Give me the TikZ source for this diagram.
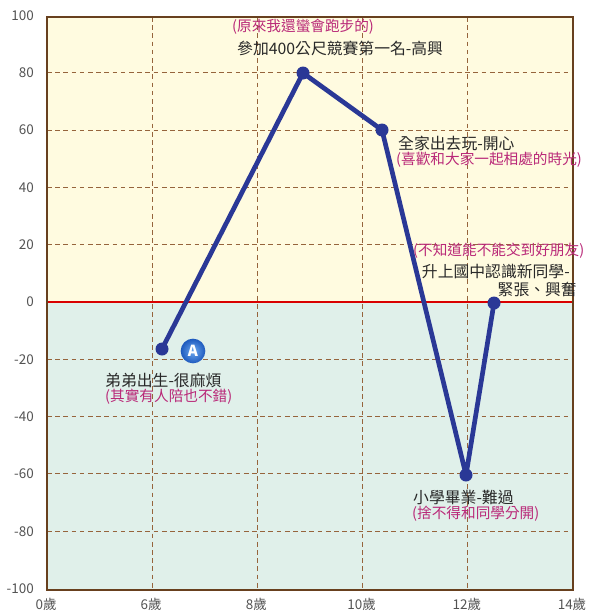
\documentclass[tikz,border=0pt]{standalone}
\usepackage{fontspec}
\setmainfont{Noto Sans CJK TC}
\definecolor{upbg}{RGB}{255,251,224}
\definecolor{lowbg}{RGB}{224,240,234}
\definecolor{framebrown}{RGB}{104,64,30}
\definecolor{gridbrown}{RGB}{150,100,60}
\definecolor{lineblue}{RGB}{42,56,150}
\definecolor{noteink}{RGB}{185,40,120}
\definecolor{textink}{RGB}{40,40,40}
\definecolor{badgein}{RGB}{110,170,240}
\definecolor{badgeout}{RGB}{30,90,190}
\tikzset{
  gridline/.style={gridbrown, dash pattern=on 4pt off 3pt, line width=1pt},
  curve/.style={lineblue, line width=4pt, line join=round},
  event/.style={font=\fontsize{13.5}{15}\selectfont, text=textink, inner sep=0pt},
  feeling/.style={font=\fontsize{12.5}{14}\selectfont, text=noteink, inner sep=0pt},
  ticklabel/.style={font=\fontsize{11.5}{13}\selectfont, text=textink!80, inner sep=0pt},
  badge/.style={circle, inner color=badgein, outer color=badgeout, text=white, minimum size=0.74cm, inner sep=0pt, font=\fontsize{13}{14}\selectfont\bfseries}
}
\begin{document}
\begin{tikzpicture}[x=0.03cm, y=-0.03cm]
  \useasboundingbox (0,0) rectangle (591,612);
  \fill[white] (0,0) rectangle (591,612);
  % background bands
  \fill[upbg] (47,17) rectangle (573,302);
  \fill[lowbg] (47,302) rectangle (573,590);
  % grid
  \foreach \v in {-80,-60,...,80}
    \draw[gridline] (47,{302-2.865*\v}) -- (573,{302-2.865*\v});
  \foreach \i in {1,...,4}
    \draw[gridline] ({47+105.2*\i},17) -- ({47+105.2*\i},590);
  \draw[red!85!black, line width=2pt] (47,302) -- (573,302);
  \draw[framebrown, line width=2.5pt] (47,17) rectangle (573,590);
  % axis labels
  \foreach \v in {-100,-80,...,100}
    \node[ticklabel, anchor=east] at (34,{302-2.865*\v}) {\v};
  \foreach \i/\age in {0/0,1/6,2/8,3/10,4/12,5/14}
    \node[ticklabel] at ({46+105.2*\i},604) {\age{}歲};
  % data
  \coordinate (birth) at (162,349);
  \coordinate (race) at (303,73);
  \coordinate (trip) at (382,130);
  \coordinate (grad) at (466,475);
  \coordinate (junior) at (494,303);
  \draw[curve] (birth) -- (race) -- (trip) -- (grad) -- (junior);
  \foreach \p in {birth,race,trip,grad,junior}
    \fill[lineblue] (\p) circle (6.5);
  \node[badge] (mark) at (193,351) {A};
  % texts
  \node[feeling, anchor=west] (raceb) at (232,27) {(原來我還蠻會跑步的)};
  \node[event, anchor=west] (racea) at (237,48) {參加400公尺競賽第一名-高興};
  \node[event, anchor=west] (tripa) at (398,143) {全家出去玩-開心};
  \node[feeling, anchor=west] (tripb) at (396,160) {(喜歡和大家一起相處的時光)};
  \node[feeling, anchor=west] (juniorb) at (413,251) {(不知道能不能交到好朋友)};
  \node[event, anchor=east] (juniora) at (570,271) {升上國中認識新同學-};
  \node[event, anchor=east] (juniorc) at (577,289) {緊張、興奮};
  \node[event, anchor=west] (birtha) at (105,380) {弟弟出生-很麻煩};
  \node[feeling, anchor=west] (birthb) at (105,397) {(其實有人陪也不錯)};
  \node[event, anchor=west] (grada) at (413,497) {小學畢業-難過};
  \node[feeling, anchor=west] (gradb) at (412,514) {(捨不得和同學分開)};
\end{tikzpicture}
\end{document}
